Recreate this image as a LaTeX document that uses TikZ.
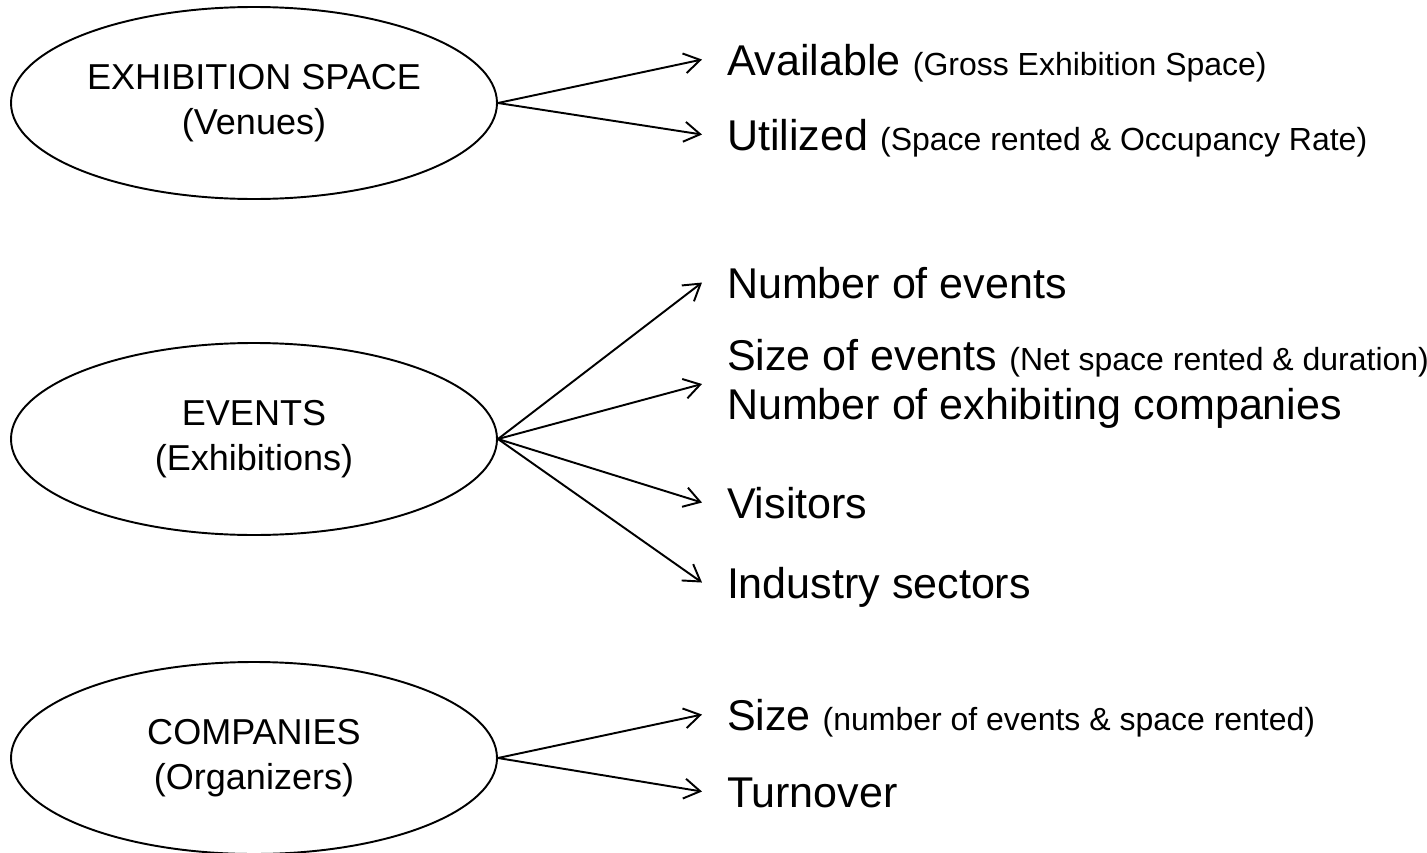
\documentclass[tikz,border=0pt]{standalone}
\usepackage{fontspec}
\setmainfont{Liberation Sans}
\usetikzlibrary{arrows.meta,shapes.geometric}

\newcommand{\aside}[1]{{\fontsize{18.2pt}{20pt}\selectfont #1}}

\begin{document}
\begin{tikzpicture}[
  group/.style={draw, ellipse, line width=1.1pt, minimum width=9.72cm, minimum height=3.84cm,
    inner sep=0pt, align=center, font=\fontsize{20.5pt}{25.6pt}\selectfont},
  entrybox/.style={inner xsep=0.5cm, inner ysep=0pt, outer sep=0pt, align=left,
    font=\fontsize{24.5pt}{27.9pt}\selectfont},
  entry/.style={entrybox, anchor=base west, text height=17.6pt, text depth=0pt},
  arr/.style={line width=1.1pt, -{Straight Barb[length=3.2mm,width=4mm]}}
]
\useasboundingbox (0,0) rectangle (28.54,-17.06);

% ---------- exhibition space ----------
\node[group] (space) at (5.08,-2.06) {EXHIBITION SPACE\\(Venues)};

\node[entry] (avail) at (14.04,-1.50) {Available \aside{(Gross Exhibition Space)}};
\node[entry] (used) at (14.04,-3.00) {Utilized \aside{(Space rented \& Occupancy Rate)}};

\draw[arr] (space.east) -- (avail.west);
\draw[arr] (space.east) -- (used.west);

% ---------- events ----------
\node[group] (events) at (5.08,-8.78) {EVENTS\\(Exhibitions)};

\node[entry] (nevents) at (14.04,-5.96) {Number of events};
\node[entrybox, anchor=west] (sevents) at (14.04,-7.68)
  {Size of events \aside{(Net space rented \& duration)}\\Number of exhibiting companies};
\node[entry] (visit) at (14.04,-10.36) {Visitors};
\node[entry] (sector) at (14.04,-11.96) {Industry sectors};

\draw[arr] (events.east) -- (nevents.west);
\draw[arr] (events.east) -- (sevents.west);
\draw[arr] (events.east) -- (visit.west);
\draw[arr] (events.east) -- (sector.west);

% ---------- companies ----------
\node[group] (firms) at (5.08,-15.16) {COMPANIES\\(Organizers)};

\node[entry] (csize) at (14.04,-14.60) {Size \aside{(number of events \& space rented)}};
\node[entry] (turn) at (14.04,-16.14) {Turnover};

\draw[arr] (firms.east) -- (csize.west);
\draw[arr] (firms.east) -- (turn.west);

\end{tikzpicture}
\end{document}
